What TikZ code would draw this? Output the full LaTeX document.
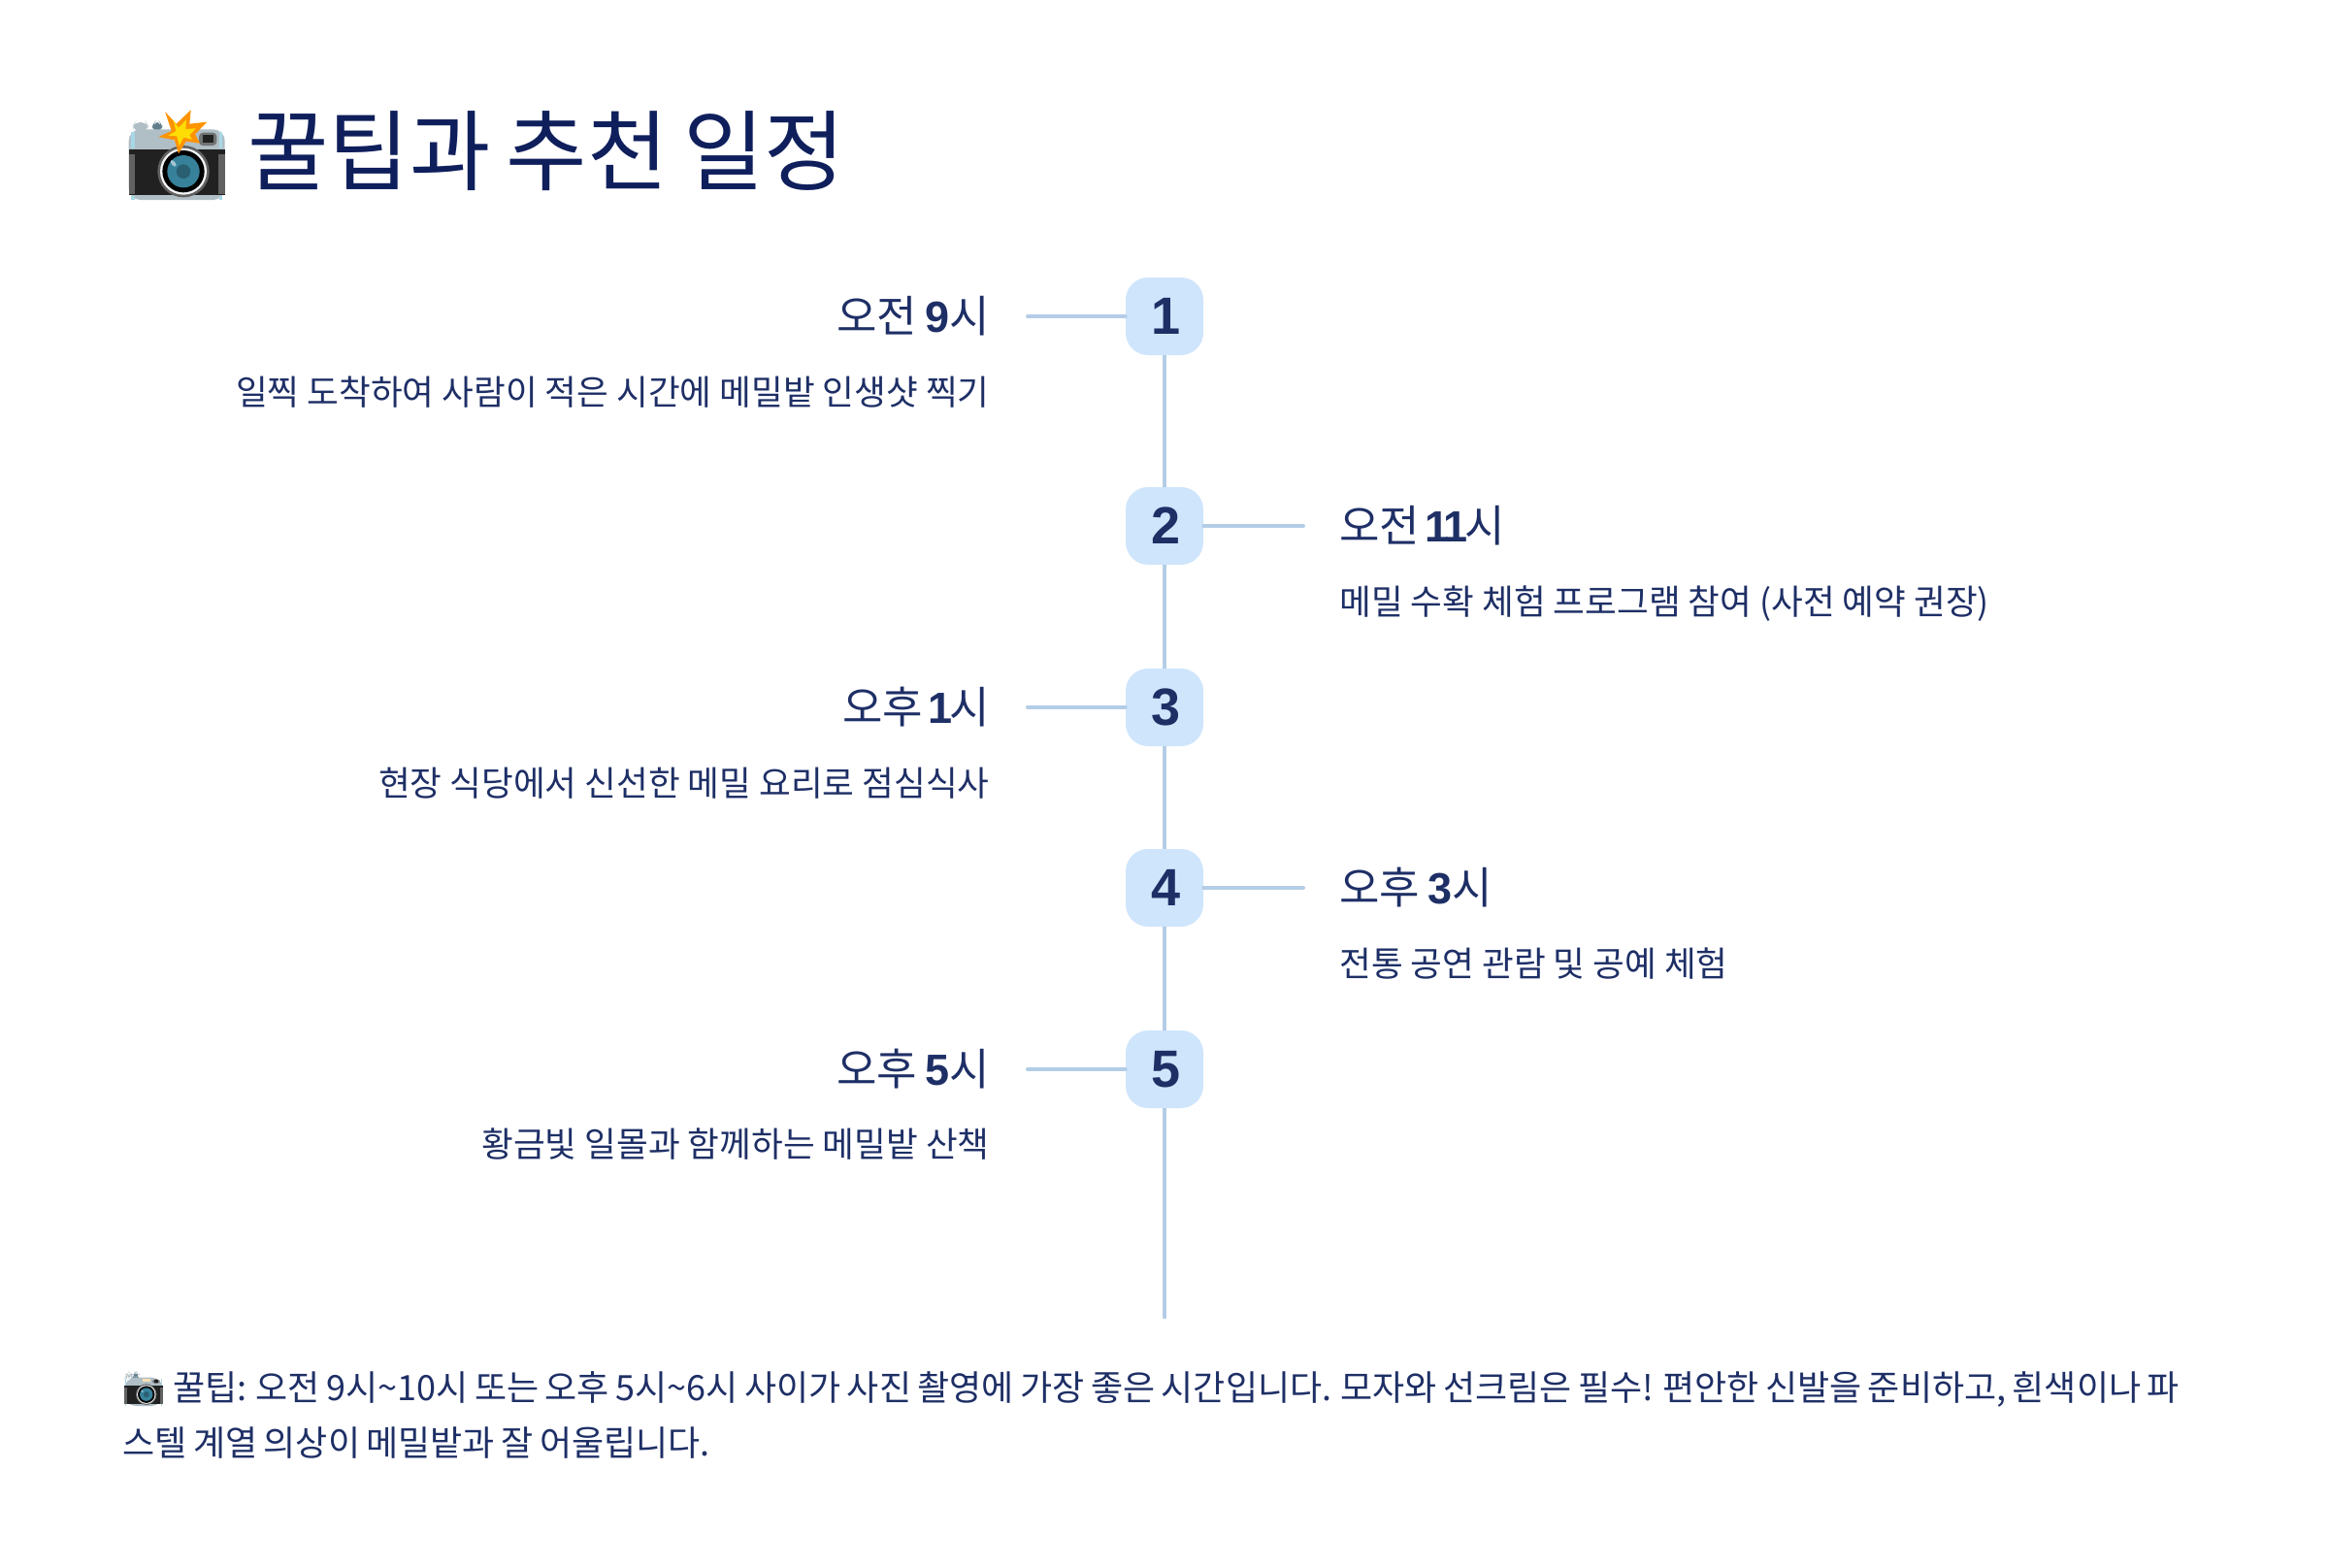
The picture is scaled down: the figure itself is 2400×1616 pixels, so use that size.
\documentclass[tikz,border=0pt]{standalone}
\usepackage{fontspec}
\setmainfont{Noto Sans CJK KR}
\newfontfamily\tightf[WordSpace=0.8]{Noto Sans CJK KR}
\newfontfamily\latinf[BoldFont=Liberation Sans Bold]{Liberation Sans}
\definecolor{titlec}{HTML}{0F1F5C}
\definecolor{textc}{HTML}{1E2F66}
\definecolor{nodec}{HTML}{CFE5FC}
\definecolor{linec}{HTML}{B3CDE6}
\definecolor{camgray}{HTML}{B0BEC5}
\definecolor{camlight}{HTML}{A8D8E6}
\definecolor{camslate}{HTML}{607D8B}
\definecolor{camdark}{HTML}{212121}
\definecolor{camgrip}{HTML}{616161}
\definecolor{camlens}{HTML}{37819A}
\definecolor{camlensd}{HTML}{2A5F72}
\definecolor{camcream}{HTML}{FFE0B2}
\newcommand{\pxfont}[1]{\fontsize{#1}{#1}\selectfont}
\newcommand{\boldnum}[1]{{\latinf\bfseries #1}}
\newcommand{\boldone}{{\latinf\bfseries\kern-1.5pt 1\kern-1.5pt}}
\newcommand{\stepdigit}[1]{\kern1.2pt\raisebox{-0.7pt}{#1}}
% camera drawn in coordinates of a 3x crop; origin is the crop's top left corner
\newcommand{\camerabody}{%
 \fill[camgray,rounded corners=3] (52,90) -- (52,72) -- (58,63) -- (91,63) -- (97,72) -- (97,90) -- cycle;
 \fill[camslate,rounded corners=3] (110,90) -- (112,72) -- (118,63) -- (134,63) -- (140,72) -- (142,90) -- cycle;
 \fill[camgray,rounded corners=6] (38,85) rectangle (335,303);
 \fill[camlight] (46,92) rectangle (56,145);
 \fill[camlight] (317,92) rectangle (327,145);
 \fill[camlight] (46,290) rectangle (56,303);
 \fill[camlight] (317,290) rectangle (327,303);
 \fill[camcream] (178,97) rectangle (240,120);
 \fill[camgrip!80!camgray,rounded corners=2] (255,95) rectangle (310,135);
 \fill[camdark] (266,102) rectangle (300,127);
 \fill[camdark] (38,147) rectangle (335,288);
 \fill[camgrip] (38,163) rectangle (58,285);
 \fill[camgrip] (315,163) rectangle (335,285);
 \fill[camgrip] (207,215) circle [radius=80];
 \fill[white!85!camgray] (207,215) circle [radius=72];
 \fill[black] (207,215) circle [radius=65];
 \fill[camlens] (207,215) circle [radius=50];
 \fill[camlensd] (207,215) circle [radius=22];
 \fill[white!55!camlens,rotate around={40:(176,190)}] (176,190) ellipse [x radius=6,y radius=12];
}
\tikzset{
 stepnum/.style={draw=none,fill=nodec,rounded corners=11.5pt,minimum width=40pt,minimum height=40pt,inner sep=0pt,text=textc,font=\latinf\bfseries\pxfont{27}},
 conn/.style={draw=linec,line width=2pt},
 stub/.style={draw=linec,line width=2pt,line cap=round},
 timetxt/.style={text=textc,font=\tightf\pxfont{22.5},inner sep=0pt},
 desctxt/.style={text=textc,font=\pxfont{17.8},inner sep=0pt},
 titletxt/.style={text=titlec,font=\tightf\pxfont{45.3},inner sep=0pt},
 foot/.style={text=textc,font=\tightf\pxfont{18},inner sep=0pt}
}
\begin{document}
\begin{tikzpicture}[x=0.5pt,y=-0.5pt]
\useasboundingbox (0,0) rectangle (2400,1616);
\fill[white] (0,0) rectangle (2400,1616);
% title emoji
\begin{scope}[shift={(120,105)},x=0.1667pt,y=-0.1667pt]
 \camerabody
 \fill[orange!85!yellow] (150,30) -- (185,68) -- (230,25) -- (226,68) -- (280,62) -- (243,100) -- (258,128) -- (215,122) -- (192,160) -- (180,118) -- (130,108) -- (170,90) -- cycle;
 \fill[yellow!80!orange] (176,58) -- (192,80) -- (216,55) -- (214,84) -- (245,82) -- (226,103) -- (234,116) -- (208,110) -- (194,135) -- (187,106) -- (160,104) -- (184,90) -- cycle;
\end{scope}
\node[titletxt,anchor=base west] (title) at (255,190) {꿀팁과 추천 일정};
% nodes
\node[stepnum] (n1) at (1200,326) {\stepdigit{1}};
\node[stepnum] (n2) at (1200,542) {\stepdigit{2}};
\node[stepnum] (n3) at (1200,729) {\stepdigit{3}};
\node[stepnum] (n4) at (1200,915) {\stepdigit{4}};
\node[stepnum] (n5) at (1200,1102) {\stepdigit{5}};
\coordinate (end) at (1200,1359);
\coordinate (s1) at (1059,326);
\coordinate (s2) at (1343,542);
\coordinate (s3) at (1059,729);
\coordinate (s4) at (1343,915);
\coordinate (s5) at (1059,1102);
\draw[conn] (n1) -- (n2);
\draw[conn] (n2) -- (n3);
\draw[conn] (n3) -- (n4);
\draw[conn] (n4) -- (n5);
\draw[conn] (n5) -- (end);
\draw[stub] (s1) -- (n1);
\draw[stub] (s2) -- (n2);
\draw[stub] (s3) -- (n3);
\draw[stub] (s4) -- (n4);
\draw[stub] (s5) -- (n5);
% labels
\node[timetxt,anchor=base east] (t1) at (1020,342) {오전 \boldnum{9}시};
\node[desctxt,anchor=base east] (d1) at (1020,417) {일찍 도착하여 사람이 적은 시간에 메밀밭 인생샷 찍기};
\node[timetxt,anchor=base west] (t2) at (1380,558) {오전 \boldone\boldone 시};
\node[desctxt,anchor=base west] (d2) at (1380,633) {메밀 수확 체험 프로그램 참여 (사전 예약 권장)};
\node[timetxt,anchor=base east] (t3) at (1020,745) {오후 \boldone 시};
\node[desctxt,anchor=base east] (d3) at (1020,820) {현장 식당에서 신선한 메밀 요리로 점심식사};
\node[timetxt,anchor=base west] (t4) at (1380,931) {오후 \boldnum{3}시};
\node[desctxt,anchor=base west] (d4) at (1380,1006) {전통 공연 관람 및 공예 체험};
\node[timetxt,anchor=base east] (t5) at (1020,1118) {오후 \boldnum{5}시};
\node[desctxt,anchor=base east] (d5) at (1020,1192) {황금빛 일몰과 함께하는 메밀밭 산책};
% footer
\begin{scope}[shift={(122.9,1408.2)},x=0.0673pt,y=-0.0673pt]\camerabody\end{scope}
\node[foot,anchor=base west] (f1) at (178,1443) {꿀팁: 오전 9시\textasciitilde 10시 또는 오후 5시\textasciitilde 6시 사이가 사진 촬영에 가장 좋은 시간입니다. 모자와 선크림은 필수! 편안한 신발을 준비하고, 흰색이나 파};
\node[foot,anchor=base west] (f2) at (126,1500) {스텔 계열 의상이 메밀밭과 잘 어울립니다.};
\end{tikzpicture}
\end{document}
